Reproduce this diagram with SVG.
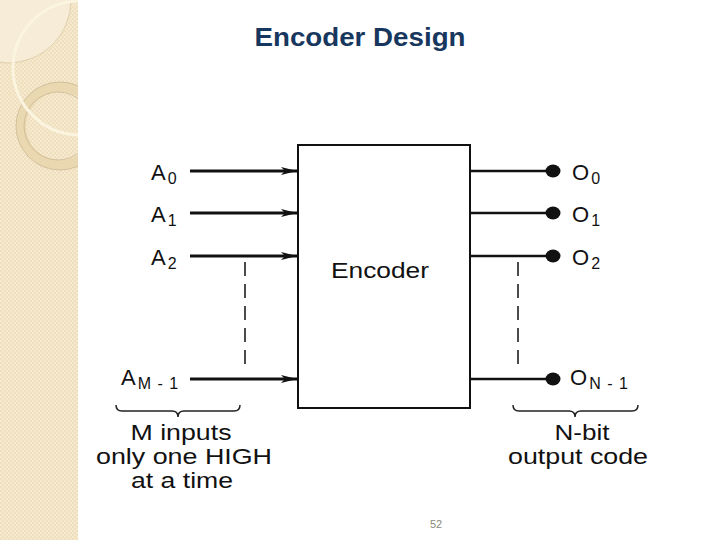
<svg xmlns="http://www.w3.org/2000/svg" width="720" height="540" viewBox="0 0 720 540">
<defs>
<pattern id="chk" width="4" height="4" patternUnits="userSpaceOnUse">
<rect width="4" height="4" fill="#efdfbd"/>
<rect width="2" height="2" fill="#f5e9cf"/>
<rect x="2" y="2" width="2" height="2" fill="#f5e9cf"/>
</pattern>
<clipPath id="side"><rect x="0" y="0" width="78" height="540"/></clipPath>
<marker id="arr" viewBox="0 0 16 8" refX="16" refY="4" markerWidth="16" markerHeight="8" markerUnits="userSpaceOnUse" orient="auto">
<path d="M0,0 L16,4 L0,8 L4,4 Z" fill="#111"/>
</marker>
<style>
.t{font-family:"Liberation Sans",Arial,sans-serif;fill:#111}
.lbl{font-size:22px}
.sub{font-size:16px}
.w{stroke:#111;stroke-width:3;fill:none}
.o{stroke:#111;stroke-width:2.5;fill:none}
.d{stroke:#111;stroke-width:1.5;stroke-dasharray:14,8;fill:none}
.br{stroke:#222;stroke-width:1.5;fill:none}
</style>
</defs>
<rect width="720" height="540" fill="#fff"/>
<g id="sidebar" clip-path="url(#side)">
<rect width="78" height="540" fill="url(#chk)"/>
<circle cx="8" cy="0" r="63" fill="#f7eedb" opacity="0.8"/>
<circle cx="8" cy="0" r="63" fill="none" stroke="#d9c9a6" stroke-width="0.8"/>
<circle cx="60" cy="126" r="39" fill="none" stroke="#ead8b0" stroke-width="10"/>
<circle cx="60" cy="126" r="44" fill="none" stroke="#cdb996" stroke-width="0.8"/>
<circle cx="58" cy="126" r="34" fill="none" stroke="#cdb996" stroke-width="0.8"/>
<circle cx="80" cy="68" r="67" fill="none" stroke="#fbf4df" stroke-width="3"/>
</g>
<text x="360" y="46" text-anchor="middle" font-family="Liberation Sans,Arial,sans-serif" font-weight="bold" font-size="25" fill="#17375e" textLength="211" lengthAdjust="spacingAndGlyphs">Encoder Design</text>
<g id="encoder">
<rect x="298" y="145" width="172" height="263" fill="#fff" stroke="#111" stroke-width="2"/>
<text class="t lbl" x="380" y="278" text-anchor="middle" textLength="98" lengthAdjust="spacingAndGlyphs">Encoder</text>
</g>
<g id="inputs">
<text class="t lbl" x="151" y="180">A<tspan class="sub" dx="2" dy="4">0</tspan></text>
<text class="t lbl" x="151" y="222">A<tspan class="sub" dx="2" dy="4">1</tspan></text>
<text class="t lbl" x="151" y="265">A<tspan class="sub" dx="2" dy="4">2</tspan></text>
<text class="t lbl" x="121" y="385">A<tspan class="sub" dx="2" dy="4" letter-spacing="1">M - 1</tspan></text>
</g>
<g id="outputs">
<text class="t lbl" x="572" y="180">O<tspan class="sub" dx="2" dy="4">0</tspan></text>
<text class="t lbl" x="572" y="222">O<tspan class="sub" dx="2" dy="4">1</tspan></text>
<text class="t lbl" x="572" y="265">O<tspan class="sub" dx="2" dy="4">2</tspan></text>
<text class="t lbl" x="570" y="385">O<tspan class="sub" dx="2" dy="4" letter-spacing="1">N - 1</tspan></text>
</g>
<g id="connectors">
<line class="w" x1="190" y1="171" x2="297" y2="171" marker-end="url(#arr)"/>
<line class="w" x1="190" y1="213" x2="297" y2="213" marker-end="url(#arr)"/>
<line class="w" x1="190" y1="256" x2="297" y2="256" marker-end="url(#arr)"/>
<line class="w" x1="190" y1="379" x2="297" y2="379" marker-end="url(#arr)"/>
<line class="d" x1="245" y1="262" x2="245" y2="372"/>
<line class="o" x1="470" y1="171" x2="553" y2="171"/>
<line class="o" x1="470" y1="213" x2="553" y2="213"/>
<line class="o" x1="470" y1="256" x2="553" y2="256"/>
<line class="o" x1="470" y1="379" x2="553" y2="379"/>
<line class="d" x1="518" y1="262" x2="518" y2="372"/>
<ellipse cx="553" cy="171" rx="7.5" ry="6.5" fill="#111"/>
<ellipse cx="553" cy="213" rx="7.5" ry="6.5" fill="#111"/>
<ellipse cx="553" cy="256" rx="7.5" ry="6.5" fill="#111"/>
<ellipse cx="553" cy="379" rx="7.5" ry="6.5" fill="#111"/>
</g>
<g id="input-brace">
<path class="br" d="M116,405 Q116,411 122,411 L172,411 Q178,411 178,417 Q178,411 184,411 L234,411 Q240,411 240,405"/>
<text class="t lbl" x="181" y="440" text-anchor="middle" textLength="101" lengthAdjust="spacingAndGlyphs">M inputs</text>
<text class="t lbl" x="184" y="464" text-anchor="middle" textLength="176" lengthAdjust="spacingAndGlyphs">only one HIGH</text>
<text class="t lbl" x="182" y="488" text-anchor="middle" textLength="102" lengthAdjust="spacingAndGlyphs">at a time</text>
</g>
<g id="output-brace">
<path class="br" d="M513,405 Q513,411 519,411 L569,411 Q575,411 575,417 Q575,411 581,411 L632,411 Q638,411 638,405"/>
<text class="t lbl" x="582" y="440" text-anchor="middle" textLength="55" lengthAdjust="spacingAndGlyphs">N-bit</text>
<text class="t lbl" x="578" y="464" text-anchor="middle" textLength="140" lengthAdjust="spacingAndGlyphs">output code</text>
</g>
<text x="436" y="528" text-anchor="middle" font-family="Liberation Sans,Arial,sans-serif" font-size="11" fill="#8a8a7a">52</text>
</svg>
